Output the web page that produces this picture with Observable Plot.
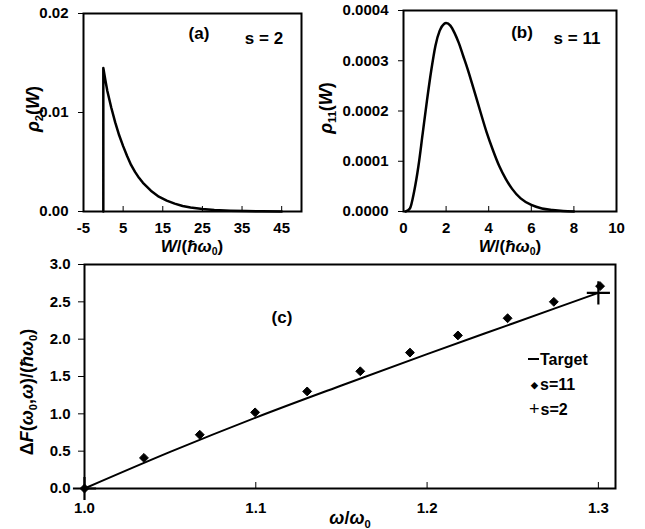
<!DOCTYPE html>
<html><head><meta charset="utf-8">
<script src="https://cdn.jsdelivr.net/npm/d3@7"></script>
<script src="https://cdn.jsdelivr.net/npm/@observablehq/plot@0.6"></script>
<style>
body{margin:0;background:#fff;}
#wrap{position:relative;width:645px;height:529px;overflow:hidden;font-family:"Liberation Sans",Arial,sans-serif;font-weight:bold;color:#000;background:#fff;}
.p{position:absolute;}
.lbl{position:absolute;white-space:nowrap;font-size:18px;line-height:1;}
.rot{transform:translate(-50%,-50%) rotate(-90deg);}
.ctr{transform:translate(-50%,-50%);}
.lft{transform:translate(0,-50%);}
sub{font-size:0.62em;vertical-align:-0.35em;line-height:0;}
</style>
</head><body><div id="wrap"></div>
<script>
// ---- panel (a): s = 2 ----
const aW   = [0, 0, 0.5, 1, 2, 3, 4, 5, 6, 7, 8, 9, 10, 12, 14, 16, 18, 20, 22, 25, 28, 32, 36, 40, 45];
const aRho = [0, 0.0145, 0.0133, 0.0122, 0.0105, 0.0090, 0.0077, 0.0066, 0.0056, 0.0047, 0.0040, 0.0034, 0.0029, 0.0021, 0.0015, 0.0011, 0.0008, 0.00055, 0.0004, 0.00025, 0.00015, 0.00008, 0.00004, 0.00002, 0.00001];
const aXTicks = [-5, 5, 15, 25, 35, 45];
const aYTicks = [0, 0.01, 0.02];

// ---- panel (b): s = 11 ----
const bW   = [0.1, 0.3, 0.5, 0.7, 0.9, 1.1, 1.3, 1.5, 1.7, 1.9, 2.0, 2.2, 2.4, 2.6, 2.8, 3.0, 3.3, 3.6, 3.9, 4.2, 4.5, 4.8, 5.1, 5.5, 6.0, 6.5, 7.0, 7.5, 8.0];
const bRho = [0, 0.000006, 0.00004, 0.00009, 0.000155, 0.00022, 0.00028, 0.00033, 0.00036, 0.000373, 0.000375, 0.00037, 0.000355, 0.000335, 0.00031, 0.000285, 0.000243, 0.0002, 0.000158, 0.000122, 0.00009, 0.000065, 0.000045, 0.000026, 0.000013, 0.000006, 0.000003, 0.000001, 0];
const bXTicks = [0, 2, 4, 6, 8, 10];
const bYTicks = [0, 0.0001, 0.0002, 0.0003, 0.0004];

// ---- panel (c) ----
const targetOmega = [1.0, 1.05, 1.1, 1.15, 1.2, 1.25, 1.3];
const targetF     = [0, 0.49, 0.95, 1.38, 1.80, 2.21, 2.62];
const s11Omega = [1.0, 1.0347, 1.0673, 1.0996, 1.130, 1.161, 1.190, 1.218, 1.247, 1.274, 1.301];
const s11F     = [0, 0.41, 0.72, 1.02, 1.30, 1.57, 1.82, 2.05, 2.28, 2.50, 2.71];
const s2Omega = [1.0, 1.3];
const s2F     = [0, 2.62];
const cXTicks = [1.0, 1.1, 1.2, 1.3];
const cYTicks = [0, 0.5, 1.0, 1.5, 2.0, 2.5, 3.0];

const style = {fontFamily: '"Liberation Sans", Arial, sans-serif', fontWeight: "bold", fontSize: "15px", color: "black", background: "white", overflow: "visible"};
const wrap = document.getElementById("wrap");
function place(el, left, top) {
  const d = document.createElement("div");
  d.className = "p"; d.style.left = left + "px"; d.style.top = top + "px";
  d.appendChild(el); wrap.appendChild(d);
}
function label(html, x, y, cls, size) {
  const d = document.createElement("div");
  d.className = "lbl " + cls; d.innerHTML = html;
  d.style.left = x + "px"; d.style.top = y + "px";
  if (size) d.style.fontSize = size + "px";
  wrap.appendChild(d);
}

const aData = aW.map((w, i) => ({W: w, rho: aRho[i]}));
const bData = bW.map((w, i) => ({W: w, rho: bRho[i]}));
const tData = targetOmega.map((o, i) => ({o, f: targetF[i]}));
const s11Data = s11Omega.map((o, i) => ({o, f: s11F[i]}));
const s2Data = s2Omega.map((o, i) => ({o, f: s2F[i]}));

const pa = Plot.plot({
  width: 320, height: 250, marginLeft: 83, marginRight: 19, marginTop: 13, marginBottom: 39,
  x: {domain: [-5, 50]}, y: {domain: [0, 0.02]}, style,
  marks: [
    Plot.axisY({ticks: aYTicks, tickFormat: d3.format(".2f"), tickSize: 5, tickPadding: 10, label: null}),
    Plot.axisX({ticks: aXTicks, tickFormat: d => String(d), tickSize: -5, tickPadding: 16, label: null}),
    Plot.frame({stroke: "black", strokeWidth: 2}),
    Plot.line(aData, {x: "W", y: "rho", stroke: "black", strokeWidth: 2.5})
  ]
});
place(pa, 0, 0);

const pb = Plot.plot({
  width: 325, height: 250, marginLeft: 83, marginRight: 29, marginTop: 10, marginBottom: 39,
  x: {domain: [0, 10]}, y: {domain: [0, 0.0004]}, style,
  marks: [
    Plot.axisY({ticks: bYTicks, tickFormat: d3.format(".4f"), tickSize: 5, tickPadding: 10, label: null}),
    Plot.axisX({ticks: bXTicks, tickFormat: d => String(d), tickSize: -5, tickPadding: 16, label: null}),
    Plot.frame({stroke: "black", strokeWidth: 2}),
    Plot.line(bData, {x: "W", y: "rho", curve: "monotone-x", stroke: "black", strokeWidth: 2.5})
  ]
});
place(pb, 320, 0);

const pc = Plot.plot({
  width: 645, height: 279, marginLeft: 84, marginRight: 30, marginTop: 14, marginBottom: 41,
  x: {domain: [1.0, 1.31]}, y: {domain: [0, 3]}, style,
  marks: [
    Plot.axisY({ticks: cYTicks, tickFormat: d3.format(".1f"), tickSize: 6, tickPadding: 8, label: null}),
    Plot.axisX({ticks: cXTicks, tickFormat: d3.format(".1f"), tickSize: -6, tickPadding: 20, label: null}),
    Plot.frame({stroke: "black", strokeWidth: 2}),
    Plot.line(tData, {x: "o", y: "f", curve: "monotone-x", stroke: "black", strokeWidth: 2}),
    Plot.dot(s11Data, {x: "o", y: "f", symbol: "diamond2", fill: "black", stroke: "black", strokeWidth: 1, r: 4}),
    Plot.dot(s2Data, {x: "o", y: "f", symbol: "plus", stroke: "black", strokeWidth: 2.2, r: 7.5})
  ]
});
place(pc, 0, 250);

// axis labels
label('<i>ρ</i><sub>2</sub>(<i>W</i>)', 33, 109, "rot");
label('<i>ρ</i><sub>11</sub>(<i>W</i>)', 326, 108, "rot");
label('Δ<i>F</i>(<i>ω</i><sub>0</sub>,<i>ω</i>)/(<i>ħω</i><sub>0</sub>)', 27, 392, "rot");
label('<i>W</i>/(<i>ħω</i><sub>0</sub>)', 192, 246, "ctr", 17);
label('<i>W</i>/(<i>ħω</i><sub>0</sub>)', 510, 246, "ctr", 17);
label('<i>ω</i>/<i>ω</i><sub>0</sub>', 350, 518, "ctr");
// panel annotations
label('(a)', 199, 33, "ctr", 17);
label('s = 2', 264, 38, "ctr", 17);
label('(b)', 522, 32, "ctr", 17);
label('s = 11', 577, 38, "ctr", 17);
label('(c)', 282, 317, "ctr", 17);
// legend
label('<span style="display:inline-block;width:11px;height:2px;background:#000;vertical-align:0.3em;margin-right:1px"></span>Target', 528, 360, "lft", 16);
label('<span style="font-size:9px;vertical-align:0.2em;margin-right:2px">◆</span>s=11', 531, 385, "lft", 16);
label('<span style="font-size:18px;font-weight:normal;margin-right:1px">+</span>s=2', 529, 409, "lft", 16);
</script>
</body></html>
